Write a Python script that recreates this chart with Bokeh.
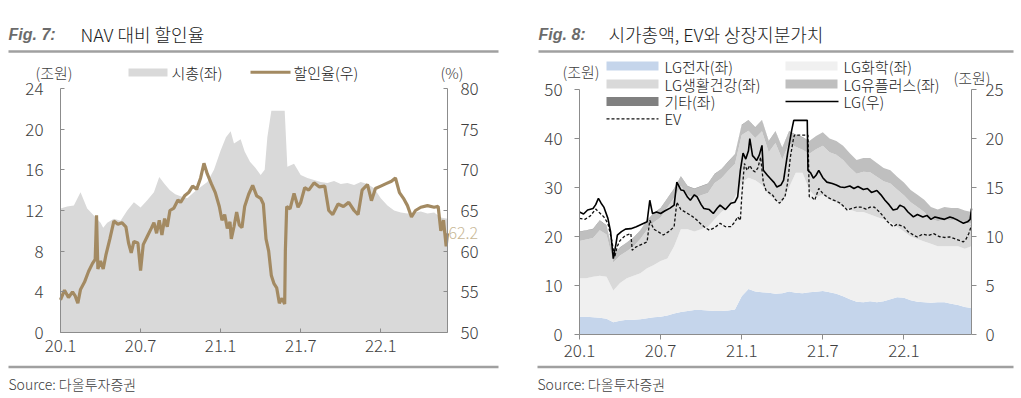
from bokeh.plotting import figure
from bokeh.models import Range1d, LinearAxis, FixedTicker, Label, ColumnDataSource
from bokeh.core.properties import value
from bokeh.embed import file_html
from bokeh.resources import INLINE

FONT = "Noto Sans CJK KR Light"
LATIN = "Liberation Sans"

# ---------------- shared x ticks (months since 2020-01) ----------------
tick_months = [0, 6, 12, 18, 24]
tick_labels = ["20.1", "20.7", "21.1", "21.7", "22.1"]

# ---------------- Fig. 7 data ----------------
mcap_m = [0, 0.5, 1, 1.5, 2, 2.5, 3, 3.2, 3.5, 4,
          4.5, 5, 5.5, 6, 6.5, 7, 7.4, 7.8, 8.2, 8.6,
          9, 9.5, 10, 10.5, 11, 11.5, 12, 12.4, 12.75, 13,
          13.5, 13.8, 14.2, 14.6, 15, 15.3, 15.5, 15.8, 16.8, 17,
          17.5, 18, 18.5, 19, 19.5, 20, 20.5, 21, 21.5, 22,
          22.5, 23, 23.5, 24, 24.5, 25, 25.5, 26, 26.5, 27,
          27.5, 28, 28.5, 29]
mcap = [12.2, 12.4, 12.5, 13.8, 12.2, 11.5, 10.8, 10.3, 10.8, 11.2,
        11.0, 12.0, 12.8, 12.3, 13.0, 13.8, 15.3, 14.6, 14.0, 13.6,
        13.4, 13.2, 13.8, 14.3, 14.8, 16.0, 17.9, 19.2, 19.8, 18.6,
        19.0, 17.8, 16.8, 16.2, 15.5, 16.0, 19.2, 21.8, 21.8, 16.3,
        16.6, 15.5, 15.2, 15.0, 14.8, 14.7, 14.9, 14.6, 14.7, 14.5,
        14.8, 14.6, 14.2, 13.2, 12.5, 12.0, 11.8, 11.7, 11.8, 11.9,
        11.7, 11.8, 11.3, 11.2]

disc_m = [0, 0.3, 0.6, 0.9, 1.1, 1.3, 1.5, 1.8, 2.1, 2.4,
          2.6, 2.7, 2.8, 3.0, 3.2, 3.4, 3.7, 4.0, 4.3, 4.6,
          4.9, 5.1, 5.3, 5.5, 5.8, 6.0, 6.2, 6.5, 6.8, 7.0,
          7.2, 7.4, 7.6, 7.8, 8.0, 8.2, 8.5, 8.8, 9.0, 9.3,
          9.6, 9.9, 10.2, 10.5, 10.75, 11.0, 11.3, 11.6, 11.9, 12.1,
          12.3, 12.5, 12.7, 12.8, 13.0, 13.2, 13.4, 13.6, 13.8, 14.1,
          14.4, 14.7, 15.0, 15.2, 15.4, 15.6, 15.8, 16.0, 16.2, 16.4,
          16.6, 16.8, 16.85, 16.95, 17.2, 17.5, 17.8, 18.0, 18.3, 18.6,
          19.0, 19.4, 19.8, 20.1, 20.4, 20.8, 21.2, 21.6, 22.0, 22.3,
          22.6, 23.0, 23.3, 23.6, 24.0, 24.4, 24.8, 25.1, 25.4, 25.7,
          26.0, 26.3, 26.6, 27.0, 27.5, 28.0, 28.3, 28.5, 28.7, 28.9,
          29.0]
disc = [54.0, 55.2, 54.3, 55.0, 54.5, 53.6, 55.3, 56.2, 57.5, 58.5,
        59.0, 64.4, 57.8, 58.8, 57.8, 59.5, 61.5, 63.7, 63.3, 63.5,
        63.0, 61.0, 59.8, 61.2, 61.0, 57.6, 60.8, 61.8, 62.8, 63.5,
        62.2, 63.8, 62.0, 64.0, 63.0, 65.0, 65.3, 66.3, 66.0, 66.8,
        67.2, 68.0, 67.6, 69.0, 70.8, 69.5, 68.3, 67.2, 65.5, 63.8,
        64.5, 62.8, 63.6, 61.5, 63.0, 64.8, 63.2, 62.9, 65.5, 67.0,
        68.1, 66.8, 66.5, 65.8, 61.5, 60.0, 57.0, 56.0, 55.5, 53.6,
        54.2, 53.5, 60.0, 65.5, 65.2, 67.1, 65.4, 66.0, 67.8, 67.5,
        68.4, 67.9, 68.0, 65.0, 64.5, 65.8, 65.5, 66.0, 65.0, 64.5,
        67.5, 68.2, 66.2, 67.7, 68.0, 68.3, 68.6, 69.0, 67.2, 66.5,
        65.6, 64.2, 65.0, 65.4, 65.6, 65.4, 65.5, 62.5, 63.8, 60.6,
        62.2]
disc_last_label = "62.2"

# ---------------- Fig. 8 data ----------------
stack_m = [0, 0.5, 1, 1.5, 2, 2.5, 3, 3.5, 4, 4.5,
           5, 5.5, 6, 6.5, 7, 7.5, 8, 8.5, 9, 9.5,
           10, 10.5, 11, 11.5, 12, 12.5, 13, 13.5, 14, 14.5,
           15, 15.5, 16, 16.5, 17, 17.5, 18, 18.5, 19, 19.5,
           20, 20.5, 21, 21.5, 22, 22.5, 23, 23.5, 24, 24.5,
           25, 25.5, 26, 26.5, 27, 27.5, 28, 28.5, 29]
lg_elec = [3.6, 3.6, 3.5, 3.4, 3.2, 2.5, 2.8, 3.0, 3.0, 3.1,
           3.3, 3.5, 3.6, 3.9, 4.3, 4.6, 4.8, 5.0, 5.0, 4.9,
           4.8, 4.8, 4.9, 5.1, 7.8, 9.3, 8.8, 8.6, 8.5, 8.3,
           8.4, 8.8, 8.5, 8.4, 8.6, 8.7, 8.9, 8.6, 8.3, 7.8,
           7.2, 6.7, 6.6, 6.8, 6.6, 6.8, 7.2, 7.6, 7.5, 7.0,
           6.7, 6.6, 6.5, 6.6, 6.6, 6.3, 6.0, 5.6, 5.4]
lg_chem = [7.9, 7.9, 8.3, 8.6, 8.6, 6.5, 7.7, 8.5, 9.0, 9.4,
           10.2, 10.7, 11.4, 11.6, 13.7, 16.9, 16.7, 16.0, 16.5, 17.1,
           18.7, 20.2, 21.1, 22.9, 23.2, 22.7, 22.7, 21.9, 20.0, 19.2,
           18.6, 21.2, 24.5, 24.6, 20.9, 19.3, 19.6, 18.9, 18.7, 18.2,
           18.3, 18.3, 18.4, 17.7, 17.4, 16.7, 15.8, 14.4, 13.5, 13.0,
           12.8, 12.4, 12.0, 11.4, 11.4, 11.7, 12.0, 11.9, 12.6]
lg_hh = [7.6, 7.9, 7.9, 9.3, 8.6, 5.7, 5.6, 5.5, 6.0, 7.0,
         7.9, 8.7, 8.9, 10.4, 9.9, 8.8, 6.9, 6.9, 6.9, 6.9,
         7.4, 6.9, 7.4, 6.8, 9.7, 9.6, 8.6, 11.0, 8.7, 11.6,
         8.7, 9.0, 5.3, 4.7, 7.4, 9.8, 10.0, 9.7, 9.7, 9.6,
         8.6, 7.8, 8.2, 8.6, 8.2, 7.8, 7.8, 7.6, 7.4, 7.0,
         6.5, 6.0, 5.1, 5.1, 5.5, 5.3, 5.4, 5.4, 4.6]
lg_uplus = [1.8, 1.8, 1.8, 1.9, 1.8, 1.5, 1.6, 1.7, 1.7, 1.7,
            1.8, 1.8, 1.8, 1.8, 1.8, 1.9, 1.8, 1.8, 1.8, 1.8,
            1.8, 1.8, 1.8, 1.9, 2.0, 2.1, 2.1, 2.2, 2.2, 2.3,
            2.3, 2.4, 2.4, 2.5, 2.6, 2.7, 2.8, 2.8, 2.8, 2.9,
            2.9, 2.8, 2.8, 2.9, 2.8, 2.7, 2.7, 2.6, 2.6, 2.5,
            2.5, 2.5, 2.4, 2.4, 2.5, 2.5, 2.4, 2.4, 2.4]
others = [0.1, 0.1, 0.1, 0.1, 0.1, 0.1, 0.1, 0.1, 0.1, 0.1,
          0.1, 0.1, 0.1, 0.1, 0.1, 0.1, 0.1, 0.1, 0.1, 0.1,
          0.1, 0.1, 0.1, 0.1, 0.1, 0.1, 0.1, 0.1, 0.1, 0.1,
          0.1, 0.1, 0.1, 0.1, 0.0, 0.0, 0.0, 0.0, 0.0, 0.0,
          0.0, 0.0, 0.0, 0.0, 0.0, 0.0, 0.0, 0.0, 0.0, 0.0,
          0.0, 0.0, 0.0, 0.0, 0.0, 0.0, 0.0, 0.0, 0.0]

lg_m = [0, 0.3, 0.6, 1.0, 1.2, 1.4, 1.6, 1.8, 2.1, 2.3,
        2.5, 2.7, 2.8, 3.1, 3.4, 3.8, 4.2, 4.6, 5.0, 5.2,
        5.4, 5.7, 6.0, 6.3, 6.7, 7.0, 7.2, 7.5, 7.7, 8.0,
        8.2, 8.5, 8.7, 9.0, 9.2, 9.6, 9.9, 10.2, 10.4, 10.8,
        11.2, 11.5, 11.7, 11.9, 12.1, 12.3, 12.5, 12.6, 12.8, 12.9,
        13.1, 13.3, 13.5, 13.6, 13.9, 14.1, 14.4, 14.6, 14.9, 15.1,
        15.4, 15.7, 15.85, 16.85, 16.9, 17.1, 17.3, 17.5, 17.7, 18.0,
        18.3, 18.7, 19.0, 19.3, 19.6, 20.0, 20.3, 20.6, 21.0, 21.3,
        21.6, 22.0, 22.3, 22.6, 22.9, 23.2, 23.5, 23.7, 24.0, 24.3,
        24.7, 25.0, 25.4, 25.7, 26.0, 26.3, 26.7, 27.0, 27.4, 27.7,
        28.0, 28.4, 28.7, 28.9, 29.0]
lg_cap = [12.5, 12.3, 12.7, 12.85, 13.25, 13.9, 13.4, 13.0, 11.85, 10.5,
          7.75, 9.25, 10.15, 10.5, 10.75, 10.8, 11.0, 11.25, 11.5, 13.7,
          12.35, 12.5, 12.35, 12.6, 12.9, 13.2, 15.55, 14.75, 14.7, 14.0,
          13.7, 14.25, 14.05, 13.25, 12.85, 12.75, 12.35, 12.9, 13.2, 12.75,
          13.4, 13.5, 14.05, 16.75, 18.5, 17.9, 18.75, 20.0, 18.25, 18.1,
          17.75, 18.3, 19.3, 16.75, 16.25, 15.95, 15.5, 15.05, 15.25, 15.75,
          18.5, 20.85, 21.85, 21.85, 16.75, 16.5, 15.95, 16.25, 16.75, 16.0,
          15.55, 15.4, 15.25, 15.05, 15.0, 15.15, 14.9, 15.1, 14.8, 14.9,
          14.5, 14.7, 14.25, 13.7, 13.25, 12.7, 12.8, 13.2, 13.0, 12.5,
          12.0, 12.25, 12.0, 12.15, 11.75, 12.0, 11.85, 11.75, 12.0, 11.85,
          11.65, 11.35, 11.5, 11.75, 12.85]

ev_m = [0, 0.4, 0.8, 1.2, 1.5, 1.8, 2.1, 2.4, 2.6, 2.8,
        3.0, 3.4, 3.8, 3.9, 4.2, 4.6, 5.0, 5.2, 5.5, 5.8,
        6.2, 6.6, 7.0, 7.2, 7.5, 8.0, 8.4, 8.7, 9.0, 9.3,
        9.6, 10.0, 10.4, 10.8, 11.2, 11.5, 11.7, 11.9, 12.0, 12.2,
        12.4, 12.6, 12.8, 13.0, 13.2, 13.4, 13.6, 13.8, 14.0, 14.3,
        14.5, 14.8, 15.0, 15.2, 15.4, 15.6, 15.8, 15.9, 16.9, 17.0,
        17.2, 17.4, 17.7, 18.0, 18.3, 18.7, 19.0, 19.3, 19.6, 19.8,
        20.2, 20.5, 20.8, 21.2, 21.5, 21.8, 22.2, 22.5, 22.8, 23.2,
        23.5, 24.0, 24.3, 24.7, 25.0, 25.4, 25.8, 26.2, 26.6, 27.0,
        27.4, 27.8, 28.1, 28.4, 28.6, 28.8, 29.0]
ev = [23.7, 23.5, 24.2, 25.6, 24.8, 24.0, 22.7, 19.0, 15.8, 18.0,
      19.2, 20.2, 20.6, 17.2, 17.9, 18.4, 18.9, 23.3, 21.5, 21.0,
      20.3, 21.0, 22.0, 27.0, 25.5, 24.7, 24.0, 23.3, 22.5, 21.8,
      21.3, 21.8, 22.7, 22.0, 22.0, 23.0, 24.0, 23.3, 28.0, 34.9,
      33.5, 34.5, 33.5, 33.2, 34.0, 36.2, 31.0, 29.4, 29.0, 28.4,
      27.5, 26.8, 27.5, 28.1, 31.0, 36.2, 39.5, 40.7, 40.7, 28.1,
      28.0, 27.4, 29.8, 28.8, 28.1, 27.5, 27.2, 26.8, 26.0, 25.4,
      25.8, 26.0, 26.0, 25.6, 26.0, 26.0, 25.0, 24.0, 23.0, 22.0,
      22.5, 22.0, 21.0, 20.3, 19.9, 20.5, 20.2, 20.6, 20.0, 19.8,
      19.9, 19.5, 19.2, 18.9, 19.5, 20.6, 22.3]

stack_names = ["LG전자(좌)", "LG화학(좌)", "LG생활건강(좌)", "LG유플러스(좌)", "기타(좌)"]
stack_colors = ["#c5d5eb", "#f0f0f0", "#d9d9d9", "#bfbfbf", "#808080"]

# ---------------- layout (page pixels) ----------------
W, H = 1021, 398
F7 = dict(left=60, right=447, top=88, bottom=332)
F8 = dict(left=579, right=971, top=89, bottom=334)
TXT = "#404040"
AX = "#8c8c8c"


def x_span(f, lo, hi):
    k = (hi - lo) / (f["right"] - f["left"])
    return Range1d(start=lo - f["left"] * k, end=lo + (W - f["left"]) * k)


def y_span(f, lo, hi):
    k = (hi - lo) / (f["bottom"] - f["top"])
    return Range1d(start=lo - (H - f["bottom"]) * k, end=lo + f["bottom"] * k)


p = figure(width=W, height=H, x_range=Range1d(0, W), y_range=Range1d(H, 0),
           x_axis_type=None, y_axis_type=None, output_backend="svg",
           toolbar_location=None, min_border=0, title=None)
p.outline_line_color = None
p.background_fill_color = "white"
p.border_fill_color = "white"
p.extra_x_ranges = {"x7": x_span(F7, 0, 29), "x8": x_span(F8, 0, 29)}
p.extra_y_ranges = {"y7": y_span(F7, 0, 24), "r7": y_span(F7, 50, 80),
                    "y8": y_span(F8, 0, 50), "r8": y_span(F8, 0, 25)}


def txt(x, y, s, size, color=TXT, font=FONT, style="normal", align="left"):
    p.text(x=[x], y=[y], text=[s], text_font=value(font), text_font_size=size,
           text_color=color, text_font_style=style, text_align=align, text_baseline="middle")


def axis(side, xr, yr, loc, bounds, ticks, tick_in, tick_out, standoff, overrides=None):
    ax = LinearAxis(x_range_name=xr, y_range_name=yr, fixed_location=loc, bounds=bounds,
                    ticker=FixedTicker(ticks=ticks))
    if overrides:
        ax.major_label_overrides = overrides
    ax.axis_line_color = AX
    ax.major_tick_line_color = AX
    ax.major_tick_in = tick_in
    ax.major_tick_out = tick_out
    ax.minor_tick_line_color = None
    ax.major_label_text_font = FONT
    ax.major_label_text_font_size = "17px"
    ax.major_label_text_color = TXT
    ax.major_label_standoff = standoff
    p.add_layout(ax, side)
    return ax


# ---------------- headers / footers ----------------
for x0, x1, fig_label, title, tx in [(8, 498, "Fig. 7:", "NAV 대비 할인율", 80),
                                     (538, 1013, "Fig. 8:", "시가총액, EV와 상장지분가치", 608)]:
    txt(x0, 34, fig_label, "16px", color="#6b6b6b", font=LATIN, style="bold italic")
    txt(tx, 33, title, "18px", color="#1a1a1a")
    p.segment(x0=[x0], y0=[51], x1=[x1], y1=[51], line_color="#a0a0a0", line_width=2.5)

for x0, x1 in [(8, 498), (537, 1013)]:
    p.segment(x0=[x0], y0=[366.5], x1=[x1], y1=[366.5], line_color="#a0a0a0", line_width=2.5)
    txt(x0, 383, "Source: 다올투자증권", "14px")

# ================= Fig. 7 =================
p.varea(x=mcap_m, y1=0, y2=mcap, fill_color="#d9d9d9", x_range_name="x7", y_range_name="y7")
p.line(x=disc_m, y=disc, x_range_name="x7", y_range_name="r7", line_color="#a38a62", line_width=3.2)
axis("below", "x7", "y7", 0, (0, 29), tick_months, 4, 0, 6, dict(zip(tick_months, tick_labels)))
axis("left", "x7", "y7", 0, (0, 24), [0, 4, 8, 12, 16, 20, 24], 4, 0, 17)
axis("right", "x7", "r7", 29, (50, 80), [50, 55, 60, 65, 70, 75, 80], 4, 0, 13)
p.add_layout(Label(x=29, y=62.2, x_range_name="x7", y_range_name="r7", text=disc_last_label,
                   x_offset=1, text_font=FONT, text_font_size="16px", text_color="#c8b795",
                   text_align="left", text_baseline="middle"))
txt(35, 72, "(조원)", "15px")
txt(440, 72, "(%)", "15px")
p.quad(left=[128], right=[167], top=[68], bottom=[76], fill_color="#d9d9d9", line_color=None)
txt(171, 72, "시총(좌)", "15px", color="#222222")
p.segment(x0=[250], y0=[71.7], x1=[290], y1=[71.7], line_color="#a38a62", line_width=3)
txt(293, 72, "할인율(우)", "15px", color="#222222")

# ================= Fig. 8 =================
src8 = ColumnDataSource(dict(x=stack_m, e=lg_elec, c=lg_chem, h=lg_hh, u=lg_uplus, k=others))
p.varea_stack(stackers=["e", "c", "h", "u", "k"], x="x", color=stack_colors, source=src8,
              x_range_name="x8", y_range_name="y8")
p.line(x=ev_m, y=ev, x_range_name="x8", y_range_name="y8", line_color="#111111",
       line_width=1.3, line_dash="3 2")
p.line(x=lg_m, y=lg_cap, x_range_name="x8", y_range_name="r8", line_color="#000000", line_width=1.6)
axis("below", "x8", "y8", 0, (0, 29), tick_months, 0, 5, 4, dict(zip(tick_months, tick_labels)))
axis("left", "x8", "y8", 0, (0, 50), [0, 10, 20, 30, 40, 50], 0, 5, 12)
axis("right", "x8", "r8", 29, (0, 25), [0, 5, 10, 15, 20, 25], 0, 5, 9)
txt(562, 71, "(조원)", "15px")
txt(953, 77, "(조원)", "15px")

# legend of Fig. 8 (two columns)
col1, col2 = 606, 785
rows = [65.5, 83.5, 101, 118.3]
swatches = [(col1, rows[0], 0), (col2, rows[0], 1), (col1, rows[1], 2), (col2, rows[1], 3), (col1, rows[2], 4)]
for sx, cy, i in swatches:
    p.quad(left=[sx], right=[sx + 52], top=[cy - 4.5], bottom=[cy + 4.5],
           fill_color=stack_colors[i], line_color=None)
    txt(sx + 58, cy, stack_names[i], "15px", color="#222222")
p.segment(x0=[col2], y0=[rows[2]], x1=[col2 + 53], y1=[rows[2]], line_color="#000000", line_width=1.6)
txt(col2 + 58, rows[2], "LG(우)", "15px", color="#222222")
p.segment(x0=[col1], y0=[rows[3]], x1=[col1 + 52], y1=[rows[3]], line_color="#111111",
          line_width=1.3, line_dash="3 2")
txt(col1 + 58, rows[3], "EV", "15px", color="#222222")

open("out.html", "w").write(file_html(p, INLINE))
